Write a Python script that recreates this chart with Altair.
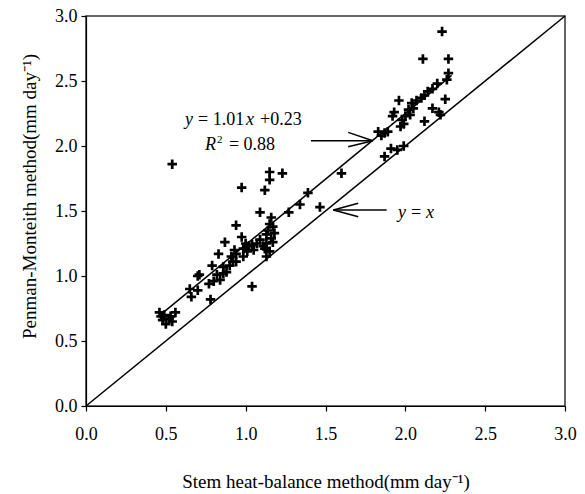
import altair as alt
import pandas as pd

# ---- scatter data (Stem heat-balance vs Penman-Monteith, mm day-1) ----
stem_hb = [
    0.46, 0.49, 0.53, 0.56, 0.48, 0.54, 0.50, 0.47, 0.52,
    0.65, 0.70, 0.66, 0.70, 0.71, 0.78,
    0.82, 0.84, 0.80, 0.77, 0.86, 0.79, 0.86, 0.90, 0.94, 0.92, 0.91, 0.93, 0.83, 0.94, 0.87, 0.88,
    0.985, 1.00, 1.02, 1.04, 1.07, 1.09, 1.11, 1.05, 0.985, 1.01, 0.975,
    1.13, 1.17, 1.12, 1.15, 1.13,
    1.15, 1.17, 1.14, 1.18, 1.13, 1.16,
    1.04,
    0.94, 1.09, 1.16, 1.27, 1.34, 1.39, 1.465, 1.60,
    0.54, 0.975, 1.15, 1.15, 1.23, 1.12,
    1.83, 1.87, 1.89, 1.85, 1.87, 1.91, 1.95, 1.99,
    1.93, 1.92, 1.96, 1.98, 2.00, 2.03, 2.02, 2.05, 2.04, 2.07, 1.99, 1.97,
    2.10, 2.12, 2.14, 2.17, 2.20, 2.26, 2.27, 2.25, 2.17, 2.21, 2.22, 2.12,
    2.11, 2.27, 2.23,
]
penman = [
    0.72, 0.70, 0.69, 0.72, 0.66, 0.65, 0.63, 0.69, 0.67,
    0.90, 0.89, 0.84, 1.00, 1.01, 0.82,
    1.01, 0.97, 0.96, 0.94, 1.02, 1.08, 1.07, 1.08, 1.11, 1.11, 1.15, 1.20, 1.17, 1.17, 1.26, 1.03,
    1.15, 1.25, 1.23, 1.24, 1.25, 1.28, 1.23, 1.20, 1.21, 1.19, 1.30,
    1.25, 1.26, 1.21, 1.19, 1.15,
    1.40, 1.38, 1.35, 1.33, 1.32, 1.29,
    0.92,
    1.39, 1.49, 1.45, 1.49, 1.55, 1.64, 1.53, 1.79,
    1.86, 1.68, 1.80, 1.74, 1.79, 1.66,
    2.11, 2.10, 2.11, 2.08, 1.92, 1.98, 1.97, 2.00,
    2.26, 2.23, 2.35, 2.20, 2.23, 2.24, 2.28, 2.29, 2.33, 2.35, 2.17, 2.15,
    2.37, 2.39, 2.42, 2.44, 2.48, 2.51, 2.56, 2.36, 2.29, 2.26, 2.24, 2.19,
    2.67, 2.67, 2.88,
]

# ---- reference lines ----
identity_x = [0.0, 3.0]
identity_y = [0.0, 3.0]
fit_x = [0.46, 2.29]
fit_y = [0.695, 2.543]

# ---- annotation anchors ----
ann_name = ["eq", "r2", "yx"]
ann_x = [0.62, 0.745, 1.954]
ann_y = [2.162, 1.969, 1.446]

# ---- arrows (shaft + two head strokes each) ----
arr_x = [1.409, 1.797, 1.797, 1.883, 1.549, 1.549]
arr_y = [2.041, 2.041, 2.041, 1.508, 1.508, 1.508]
arr_x2 = [1.797, 1.642, 1.642, 1.549, 1.705, 1.705]
arr_y2 = [2.041, 2.105, 1.995, 1.508, 1.559, 1.456]

ticks = [0.0, 0.5, 1.0, 1.5, 2.0, 2.5, 3.0]

FONT = "Liberation Serif"

pts = pd.DataFrame({"x": stem_hb, "y": penman})
ident = pd.DataFrame({"x": identity_x, "y": identity_y})
fit = pd.DataFrame({"x": fit_x, "y": fit_y})
ann = pd.DataFrame({"name": ann_name, "x": ann_x, "y": ann_y})
arrows = pd.DataFrame({"x": arr_x, "y": arr_y, "x2": arr_x2, "y2": arr_y2})

xscale = alt.Scale(domain=[0, 3], nice=False, zero=False)
yscale = alt.Scale(domain=[0, 3], nice=False, zero=False)

xaxis = alt.Axis(
    values=ticks, format=".1f", title="Stem heat-balance method(mm day\u207b\u00b9)",
    grid=False, tickSize=5, labelPadding=14, titlePadding=29, labelFlush=False,
)
yaxis = alt.Axis(
    values=ticks, format=".1f", title="Penman-Monteith method(mm day\u207b\u00b9)",
    grid=False, tickSize=5, labelPadding=4, titlePadding=15, titleY=180, labelFlush=False,
)

scatter = alt.Chart(pts).mark_point(
    shape="M-1,0H1M0,-1V1", size=90, strokeWidth=2.7, color="black", filled=False, opacity=1
).encode(
    x=alt.X("x:Q", scale=xscale, axis=xaxis),
    y=alt.Y("y:Q", scale=yscale, axis=yaxis),
)

ident_line = alt.Chart(ident).mark_line(color="black", strokeWidth=1.5).encode(
    x=alt.X("x:Q", scale=xscale), y=alt.Y("y:Q", scale=yscale)
)
fit_line = alt.Chart(fit).mark_line(color="black", strokeWidth=1.5).encode(
    x=alt.X("x:Q", scale=xscale), y=alt.Y("y:Q", scale=yscale)
)

arrow_rules = alt.Chart(arrows).mark_rule(color="black", strokeWidth=1.5).encode(
    x=alt.X("x:Q", scale=xscale), y=alt.Y("y:Q", scale=yscale), x2="x2:Q", y2="y2:Q"
)


def piece(name, text, dx, italic=False, size=18, dy=0):
    return alt.Chart(ann).transform_filter(alt.datum.name == name).mark_text(
        align="left", baseline="alphabetic", font=FONT, fontSize=size,
        fontStyle="italic" if italic else "normal", dx=dx, dy=dy, color="black",
    ).encode(
        x=alt.X("x:Q", scale=xscale), y=alt.Y("y:Q", scale=yscale), text=alt.value(text)
    )


texts = [
    piece("eq", "y", 0, True),
    piece("eq", "= 1.01", 13),
    piece("eq", "x", 61, True),
    piece("eq", "+0.23", 75),
    piece("r2", "R", 0, True),
    piece("r2", "2", 12, size=11, dy=-7),
    piece("r2", "= 0.88", 24),
    piece("yx", "y", 0, True),
    piece("yx", "=", 13),
    piece("yx", "x", 28, True),
]

chart = alt.layer(ident_line, fit_line, arrow_rules, scatter, *texts).properties(
    width=479, height=390,
    autosize=alt.AutoSizeParams(type="none"),
    padding={"left": 86, "top": 16, "right": 20, "bottom": 88},
    background="white",
).configure_axis(
    labelFont=FONT, titleFont=FONT, labelFontSize=18, titleFontSize=19,
    labelColor="black", titleColor="black", titleFontWeight="normal",
    domainColor="black", tickColor="black", domainWidth=1.2, tickWidth=1.2,
).configure_view(
    stroke="#333333", strokeWidth=1.5
)

chart.save("out.html", embed_options={"renderer": "svg", "actions": False})
